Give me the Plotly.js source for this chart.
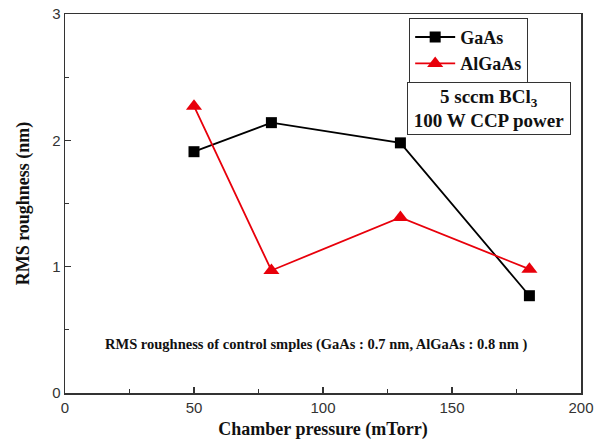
<!DOCTYPE html>
<html>
<head>
<meta charset="utf-8">
<script src="https://cdn.plot.ly/plotly-3.0.1.min.js"></script>
<style>
  html, body { margin: 0; padding: 0; background: #fff; }
  #chart { width: 605px; height: 446px; }
</style>
</head>
<body>
<div id="chart"></div>
<script>
// Chamber pressure (mTorr) and RMS roughness (nm) per material
const pressure = [50, 80, 130, 180];
const gaasRoughness = [1.91, 2.14, 1.98, 0.77];
const algaasRoughness = [2.27, 0.97, 1.39, 0.98];
const seriesNames = ['GaAs', 'AlGaAs'];
const xTicks = [0, 50, 100, 150, 200];
const yTicks = [0, 1, 2, 3];

const serif = 'Liberation Serif, Times New Roman, serif';
const sans = 'Liberation Sans, Arial, sans-serif';

const traces = [
  {
    x: pressure, y: gaasRoughness, name: '<b>' + seriesNames[0] + '</b>',
    type: 'scatter', mode: 'lines+markers',
    line: { color: '#000000', width: 1.8 },
    marker: { symbol: 'square', size: 11, color: '#000000' }
  },
  {
    x: pressure, y: algaasRoughness, name: '<b>' + seriesNames[1] + '</b>',
    type: 'scatter', mode: 'lines+markers',
    line: { color: '#e8000b', width: 1.8 },
    marker: { symbol: 'triangle-up', size: 14, color: '#e8000b' }
  }
];

const axisCommon = {
  showgrid: false, zeroline: false,
  showline: true, linecolor: '#333', linewidth: 1.5, mirror: true,
  ticks: 'inside', ticklen: 6, tickwidth: 1.2, tickcolor: '#333',
  tickfont: { family: sans, size: 15, color: '#333' }
};

const layout = {
  width: 605, height: 446,
  margin: { l: 65, r: 24, t: 14, b: 53 },
  paper_bgcolor: '#ffffff', plot_bgcolor: '#ffffff',
  showlegend: true,
  legend: {
    x: 0.667, y: 0.99, xanchor: 'left', yanchor: 'top',
    bgcolor: '#ffffff', bordercolor: '#333', borderwidth: 1,
    font: { family: serif, size: 18, color: '#111' },
    tracegroupgap: 0, itemwidth: 40
  },
  xaxis: Object.assign({}, axisCommon, {
    range: [0, 200], tickvals: xTicks,
    minor: { ticks: 'inside', dtick: 25, ticklen: 4, tickcolor: '#333' },
    title: { text: '<b>Chamber pressure (mTorr)</b>', font: { family: serif, size: 18, color: '#111' }, standoff: 8 }
  }),
  yaxis: Object.assign({}, axisCommon, {
    range: [0, 3], tickvals: yTicks,
    minor: { ticks: 'inside', dtick: 0.5, ticklen: 4, tickcolor: '#333' },
    title: { text: '<b>RMS roughness (nm)</b>', font: { family: serif, size: 18, color: '#111' }, standoff: 18 }
  }),
  annotations: [
    {
      // process conditions, boxed
      xref: 'paper', yref: 'paper', x: 0.822, y: 0.75,
      xanchor: 'center', yanchor: 'middle', align: 'center',
      width: 158, height: 47,
      text: '<b>5 sccm BCl<sub>3</sub></b><br><b>100 W CCP power</b>',
      showarrow: false, bgcolor: '#ffffff',
      bordercolor: '#333', borderwidth: 1, borderpad: 2,
      font: { family: serif, size: 19, color: '#111' }
    },
    {
      xref: 'paper', yref: 'paper', x: 0.488, y: 0.128,
      xanchor: 'center', yanchor: 'middle',
      text: '<b>RMS roughness of control smples (GaAs : 0.7 nm, AlGaAs : 0.8 nm )</b>',
      showarrow: false,
      font: { family: serif, size: 14.5, color: '#111' }
    }
  ]
};

Plotly.newPlot('chart', traces, layout, { displayModeBar: false, staticPlot: true });
</script>
</body>
</html>
